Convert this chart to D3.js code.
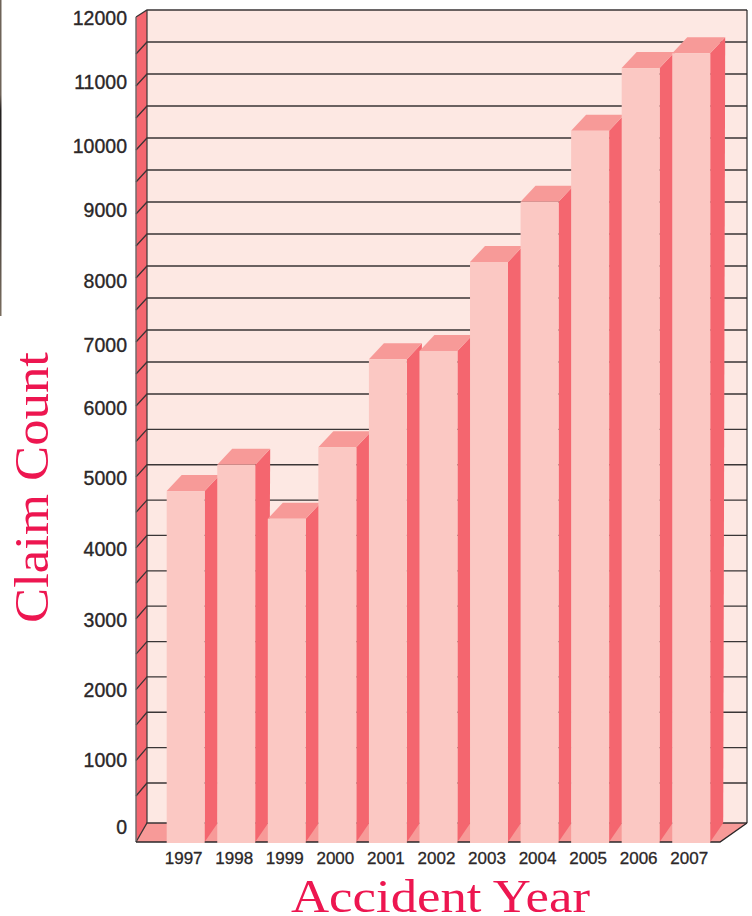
<!DOCTYPE html>
<html lang = "en">
   <head>
      <script src = "https://cdnjs.cloudflare.com/ajax/libs/d3/7.8.5/d3.min.js"></script>
      <style>
         body { margin: 0; background: #fff; }
         svg { display: block; }
      </style>
    </head>

   <body>
      <script>
         // values
         let years = ['1997','1998','1999','2000','2001','2002','2003','2004','2005','2006','2007']
         let claims = [4800, 5170, 4410, 5420, 6730, 6860, 8250, 9190, 10300, 11280, 11510]
         let yLabels = [0, 1000, 2000, 3000, 4000, 5000, 6000, 7000, 8000, 9000, 10000, 11000, 12000]
         let gridValues = d3.range(0, 12001, 500)

         let w = 752
         let h = 916
         let wallBack = 147
         let wallFront = 136
         let wallRight = 747
         let floorRight = 720
         let barDepthX = 15
         let barDepthY = 16

         const wallColor = '#fde8e3'
         const sideColor = '#f4666f'
         const frontColor = '#fbc8c3'
         const topColor = '#f79a98'
         const lineColor = '#3a3536'
         const textColor = '#2b2728'
         const titleColor = '#ed1650'

         // The printed axis is not regular: the steps get tighter above 6000 and the
         // first step is wider, so both scales are linear with a few stops.
         let stops = [0, 500, 6000, 11500, 12000]
         let yFront = d3.scaleLinear().domain(stops).range([842, 796, 406, 54, 17])
         let yBack = d3.scaleLinear().domain(stops).range([823, 783, 394, 42, 10])

         // the tick labels do not sit exactly on the grid lines either
         let yText = d3.scaleLinear()
                       .domain([0, 1000, 3000, 5000, 6000, 8000, 9000, 12000])
                       .range([827, 760, 620, 478, 408, 281, 210, 18])

         let scaleX = d3.scaleBand()
                        .domain(years)
                        .range([160.4, 716.5])
                        .paddingInner(0.249)
                        .paddingOuter(0.1245)

         let svg = d3.select('body')
                     .append('svg')
                     .attr('height', h)
                     .attr('width', w)

         // dark sliver of a neighbouring photo on the left edge of the scan
         let edge = svg.append('defs')
                       .append('linearGradient')
                       .attr('id', 'edge')
                       .attr('x1', 0).attr('y1', 0).attr('x2', 0).attr('y2', 1)
         edge.append('stop').attr('offset', 0).attr('stop-color', '#6e6358')
         edge.append('stop').attr('offset', 0.3).attr('stop-color', '#6e6358')
         edge.append('stop').attr('offset', 0.35).attr('stop-color', '#221f1e')
         edge.append('stop').attr('offset', 0.6).attr('stop-color', '#2a2725')
         edge.append('stop').attr('offset', 0.8).attr('stop-color', '#5a5148')
         edge.append('stop').attr('offset', 1).attr('stop-color', '#7a6e60')

         svg.append('rect')
            .attr('x', 0)
            .attr('y', 0)
            .attr('width', 1.5)
            .attr('height', 316)
            .attr('fill', 'url(#edge)')

         function pts(list) {
            return list.map(function(p) { return p.join(',') }).join(' ')
         }

         // back wall, left wall and floor
         svg.append('rect')
            .attr('x', wallBack)
            .attr('y', yBack(12000))
            .attr('width', wallRight - wallBack)
            .attr('height', yBack(0) - yBack(12000))
            .attr('fill', wallColor)

         svg.append('polygon')
            .attr('points', pts([
               [wallFront, yFront(12000)], [wallBack, yBack(12000)],
               [wallBack, yBack(0)], [wallFront, yFront(0)]
            ]))
            .attr('fill', sideColor)

         svg.append('polygon')
            .attr('points', pts([
               [wallFront, yFront(0)], [wallBack, yBack(0)],
               [wallRight, yBack(0)], [floorRight, yFront(0)]
            ]))
            .attr('fill', topColor)

         // grid lines run along the back wall and fold down the left wall
         svg.selectAll('polyline.grid')
            .data(gridValues)
            .enter()
            .append('polyline')
            .attr('class', 'grid')
            .attr('points', function(d) {
               return pts([[wallFront, yFront(d)], [wallBack, yBack(d)], [wallRight, yBack(d)]])
            })
            .attr('fill', 'none')
            .attr('stroke', lineColor)
            .attr('stroke-width', 1.3)

         svg.append('line')
            .attr('x1', wallBack).attr('x2', wallBack)
            .attr('y1', yBack(12000)).attr('y2', yBack(0))
            .attr('stroke', lineColor)
            .attr('stroke-width', 1.2)

         svg.append('line')
            .attr('x1', wallFront).attr('x2', wallFront)
            .attr('y1', yFront(12000)).attr('y2', yFront(0))
            .attr('stroke', '#6b6667')
            .attr('stroke-width', 1.4)

         svg.append('line')
            .attr('x1', wallRight).attr('x2', wallRight)
            .attr('y1', yBack(12000)).attr('y2', yBack(0))
            .attr('stroke', '#2b2728')
            .attr('stroke-width', 1.2)

         svg.append('polyline')
            .attr('points', pts([[wallFront, yFront(0)], [floorRight, yFront(0)], [wallRight, yBack(0)]]))
            .attr('fill', 'none')
            .attr('stroke', '#2b2728')
            .attr('stroke-width', 1.4)

         // bars, left to right so the next bar covers the previous side face
         let bars = svg.selectAll('g.bar')
                       .data(years)
                       .enter()
                       .append('g')
                       .attr('class', 'bar')

         bars.append('polygon')
             .attr('points', function(d, i) {
                let x1 = scaleX(d) + scaleX.bandwidth()
                let top = yFront(claims[i])
                return pts([
                   [x1, top], [x1 + barDepthX, top - barDepthY],
                   [x1 + barDepthX - 2, yBack(0)], [x1, yFront(0)]
                ])
             })
             .attr('fill', sideColor)

         bars.append('polygon')
             .attr('points', function(d, i) {
                let x0 = scaleX(d)
                let x1 = x0 + scaleX.bandwidth()
                let top = yFront(claims[i])
                return pts([
                   [x0, top], [x0 + barDepthX, top - barDepthY],
                   [x1 + barDepthX, top - barDepthY], [x1, top]
                ])
             })
             .attr('fill', topColor)

         bars.append('rect')
             .attr('x', function(d) { return scaleX(d) })
             .attr('y', function(d, i) { return yFront(claims[i]) })
             .attr('width', scaleX.bandwidth())
             .attr('height', function(d, i) { return yFront(0) + 1 - yFront(claims[i]) })
             .attr('fill', frontColor)

         // tick labels
         svg.selectAll('text.ylabel')
            .data(yLabels)
            .enter()
            .append('text')
            .attr('class', 'ylabel')
            .text(function(d) { return d })
            .attr('x', 127)
            .attr('y', function(d) { return yText(d) + 7 })
            .attr('text-anchor', 'end')
            .attr('font-family', '"Liberation Sans", sans-serif')
            .attr('font-size', 19.5)
            .attr('fill', textColor)
            .attr('stroke', textColor)
            .attr('stroke-width', 0.35)

         svg.selectAll('text.xlabel')
            .data(years)
            .enter()
            .append('text')
            .attr('class', 'xlabel')
            .text(function(d) { return d })
            .attr('x', function(d) { return scaleX(d) + scaleX.bandwidth() / 2 - 2 })
            .attr('y', 864)
            .attr('text-anchor', 'middle')
            .attr('font-family', '"Liberation Sans", sans-serif')
            .attr('font-size', 17)
            .attr('fill', textColor)
            .attr('stroke', textColor)
            .attr('stroke-width', 0.3)

         // axis titles
         svg.append('text')
            .text('Accident Year')
            .attr('x', 291)
            .attr('y', 912)
            .attr('textLength', 299)
            .attr('lengthAdjust', 'spacingAndGlyphs')
            .attr('font-family', '"Liberation Serif", serif')
            .attr('font-size', 47)
            .attr('fill', titleColor)

         svg.append('text')
            .text('Claim Count')
            .attr('transform', 'translate(48,623) rotate(-90)')
            .attr('textLength', 271)
            .attr('lengthAdjust', 'spacingAndGlyphs')
            .attr('font-family', '"Liberation Serif", serif')
            .attr('font-size', 49)
            .attr('fill', titleColor)
      </script>
   </body>
</html>
